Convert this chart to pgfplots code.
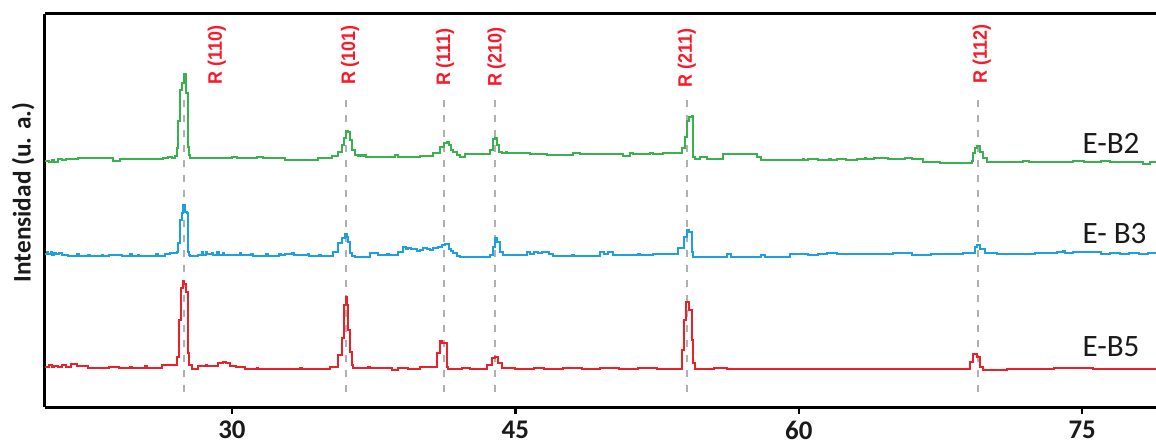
\documentclass[border=0pt]{standalone}
\usepackage{fontspec}
\setmainfont{Carlito}
\newfontfamily\peakfont[FakeStretch=0.92]{Liberation Sans}
\usepackage{pgfplots}
\pgfplotsset{compat=1.18}

\definecolor{cgreen}{RGB}{56,178,76}
\definecolor{cblue}{RGB}{28,160,226}
\definecolor{cred}{RGB}{236,32,40}
\definecolor{cdash}{RGB}{176,176,176}
\definecolor{cpeak}{RGB}{250,25,40}
\definecolor{ctext}{RGB}{26,26,26}

% E-B2 diffractogram (2theta, intensity with vertical offset)
\pgfplotstableread{
x y
20.10 246
20.30 245
20.45 247
20.60 245
20.81 248
21.00 247.5
21.20 248.5
21.86 248.7
22.50 248.7
23.10 248.7
23.72 246.3
24.07 248.3
24.86 248
25.50 248
26.00 248
26.36 249.3
26.60 250
26.80 249.3
26.98 251
27.07 258.7
27.16 286
27.25 317
27.37 323.7
27.44 333
27.55 313.7
27.65 300.3
27.69 260.3
27.74 252
27.78 249.3
28.30 249.3
29.98 250.3
30.25 249.3
31.31 250.3
31.66 249.3
32.81 247
33.60 247
34.57 249.3
35.28 251
35.63 255.3
35.81 262
35.93 268.7
36.02 276.3
36.16 275.3
36.25 267
36.33 257
36.51 252
36.69 251
36.80 252.5
36.90 251
37.00 252.5
37.10 250.5
37.39 250.3
38.00 250.3
38.63 252
38.81 250.3
39.50 250.3
39.95 251
40.66 253.7
41.01 260.3
41.20 264.3
41.36 265
41.50 262
41.57 257
41.71 255.3
41.89 252
42.07 250.3
42.33 252.7
43.00 252.7
43.57 252.7
43.66 257
43.83 267.7
43.92 269.3
44.04 262
44.15 255.3
44.27 253.7
44.50 254.8
44.58 253.7
44.80 254.5
44.90 253.7
45.77 253
46.66 252
47.50 252
48.07 254.3
48.42 252.7
49.48 252.7
50.00 253.5
50.30 252.7
50.71 251
51.07 254.3
51.24 252.7
52.13 254.3
52.30 252.7
52.80 254
53.01 253.7
53.71 253.7
53.80 258.7
53.98 270.3
54.10 286.3
54.21 290.3
54.33 291
54.38 250
54.51 247.7
54.77 249.7
55.13 247.7
56.01 252.7
57.42 252.7
57.77 250.3
58.00 247
59.00 247
59.54 247
60.20 248.5
60.30 247
60.50 247.8
61.00 247
61.60 248.5
61.70 247
62.00 248
62.50 247
63.07 248
63.50 249.5
63.58 248
64.00 248.8
64.70 248
65.60 249
66.00 248
66.42 248
66.60 245.3
67.50 244.3
68.63 244.3
69.16 246.3
69.21 253.7
69.33 258.7
69.46 261
69.60 255.3
69.77 248.7
69.95 244.7
71.00 244.7
71.89 246.3
72.20 244.7
73.00 245.5
73.66 244.7
74.50 246.3
75.10 244.7
75.42 244.7
76.00 246.3
76.50 244.7
77.19 245.5
77.80 244.7
78.20 243.5
78.60 245.5
79.00 245
}\ebtwo

% E-B3 diffractogram
\pgfplotstableread{
x y
20.10 152.7
20.20 154.8
20.28 152.7
20.40 155
20.47 152.5
20.60 154.3
20.68 152.7
20.85 153.8
21.00 152
21.34 151.3
21.80 152.7
21.88 151.3
22.40 152.5
22.50 151.3
23.10 152.5
23.18 151.3
23.50 152
24.20 151.3
24.60 152.7
24.70 151.3
25.00 152.5
25.10 151.3
25.60 151.3
26.00 152.7
26.10 151.5
26.45 152.7
26.70 153.7
27.07 155
27.16 163.7
27.25 187
27.37 193.7
27.42 202
27.51 195.3
27.60 193.7
27.65 155.3
27.72 152
27.78 151
28.22 152
28.40 154.8
28.48 152.5
28.62 155
28.70 153
28.92 154.3
29.00 152.5
29.20 154.8
29.30 152.5
29.50 154
29.60 152
30.40 153.8
30.48 152
31.00 153
31.10 151.5
31.80 152.7
31.90 151.5
32.50 153.5
32.60 152
32.81 153
33.20 154.5
33.30 152.5
34.00 152.7
34.10 151.3
34.60 152.5
34.70 151.3
35.28 151.3
35.36 155.3
35.63 163.7
35.81 168.7
35.98 172.7
36.07 170.3
36.16 165.3
36.25 153.7
36.33 151
36.51 150.3
37.31 153.7
37.75 152
38.20 153.5
38.30 152
38.63 152
38.81 155.3
39.07 159.7
39.20 157.7
39.33 159
39.45 157.7
39.60 158.5
39.80 156.5
39.95 157
40.10 159
40.30 158.5
40.50 157
40.66 158.7
40.90 160.5
41.10 162
41.30 162.7
41.50 158.5
41.60 156
41.71 154
41.89 151.5
42.07 150.3
43.57 150.3
43.66 152
43.80 160.3
43.92 169.3
44.04 165.3
44.18 155.3
44.35 152
45.00 152.5
45.60 155.3
45.80 153.5
46.00 155.5
46.20 153.7
46.40 155
46.60 155.3
46.80 153
47.00 151.3
48.00 152.5
48.10 151.3
49.48 155.3
49.70 153.5
49.90 155
50.18 152
51.00 152
51.50 153.3
51.60 152
52.30 153.3
53.40 153
53.63 158.7
53.90 170.3
54.07 177
54.20 175.3
54.33 155.3
54.42 150.3
56.00 150.3
56.20 153.5
56.40 150.3
58.00 152
58.20 150.3
59.54 152.7
60.00 153.5
60.50 152
61.00 152.7
61.50 154
62.00 152.7
63.00 153.5
64.00 152.7
65.00 153.7
66.00 152.3
67.00 152.7
68.00 153.5
68.71 154.3
69.16 154.3
69.33 160.3
69.46 162.3
69.60 158
69.86 153.7
70.50 153.3
71.50 152.7
72.50 153.7
73.66 154.7
74.00 156
74.10 154.5
74.50 155
75.42 154.7
76.00 153.5
76.50 154.3
77.00 153.3
77.50 154.3
78.00 153.5
78.50 154.3
79.00 154
}\ebthree

% E-B5 diffractogram
\pgfplotstableread{
x y
20.10 40.3
20.30 42.5
20.45 40.3
20.60 41.5
20.80 40.3
21.00 42
21.20 40.5
21.50 43
21.80 41
22.40 39.3
23.00 39.3
23.50 40.3
24.00 39.3
24.60 40.5
24.70 39.3
25.40 40.8
25.50 39.3
26.27 42
26.90 42.5
27.07 50.3
27.21 87
27.30 118.7
27.39 126.3
27.48 123.5
27.57 115.3
27.65 53.7
27.72 42
27.86 38.5
28.22 41
28.60 42.5
28.70 41
29.28 43.7
29.50 45
29.70 44
29.89 41.5
30.20 40
30.69 38
31.30 39.3
31.40 38
32.00 38.5
33.00 38
33.60 39.3
33.70 38
34.00 38.3
35.00 38
35.20 40
35.63 52
35.81 68.7
35.93 102
36.02 110.3
36.10 102
36.16 77
36.25 55.3
36.33 42
36.42 39.3
37.20 40
37.30 39
38.45 37
38.81 39.3
39.30 38
39.95 40.3
40.65 40.3
40.83 53.7
41.00 66.3
41.10 63.7
41.27 63.7
41.36 40.3
41.45 38
42.20 39
42.60 38
43.48 42
43.74 48.7
43.92 50.3
44.09 43.7
44.27 38.7
45.00 38
46.00 39
46.50 38
47.50 38.7
48.50 38
49.50 39
50.50 38
51.50 38.7
52.50 38
53.71 38.5
53.80 57
53.92 87
54.03 104.7
54.20 97
54.33 67
54.42 44
54.50 38
55.50 39.3
56.20 38
57.00 38.5
58.00 37.7
59.00 38.5
60.00 37.7
61.00 38.3
62.00 37.7
63.00 38.5
64.00 37.7
65.00 38.3
66.00 37.7
67.00 38.3
68.00 37.7
69.07 45.3
69.24 53
69.42 50.3
69.60 40.3
69.77 37
71.00 37.7
72.00 38.3
73.50 39
74.50 39.5
75.60 38.5
76.50 37.7
77.50 38.3
79.00 37.7
}\ebfive

\begin{document}
\begin{tikzpicture}
\begin{axis}[
  scale only axis,
  width=556.3bp, height=196.5bp,
  xmin=20.1, xmax=79, ymin=0, ymax=393,
  axis x line=box, axis y line=left,
  axis line style={-, line width=1.5bp, black},
  xtick={30,45,60,75}, xtick pos=left,
  ytick=\empty,
  tick align=outside, major tick length=3.5bp,
  tick style={line width=1.2bp, black},
  xticklabel style={font=\bfseries\fontsize{13.5}{14}\selectfont, text=ctext},
  /pgf/number format/assume math mode=true,
  clip=false,
]
% reflection positions (rutile)
\foreach \p in {27.45,36.02,41.2,43.92,54.1,69.47}{
  \edef\temp{\noexpand\addplot[cdash, line width=1bp, dash pattern=on 3.5bp off 4bp, forget plot]
    coordinates {(\p,15) (\p,312)};}
  \temp
}
\addplot[cgreen, line width=1bp, const plot] table {\ebtwo};
\addplot[cblue, line width=1bp, const plot] table {\ebthree};
\addplot[cred, line width=1bp, const plot] table {\ebfive};

\begin{scope}[every node/.style={rotate=90, text=cpeak, font=\peakfont\bfseries\fontsize{9.8}{10}\selectfont}]
\node at (axis cs:29.2,352) {R (110)};
\node at (axis cs:36.25,352) {R (101)};
\node at (axis cs:41.28,350) {R (111)};
\node at (axis cs:44.01,350) {R (210)};
\node at (axis cs:54.07,349) {R (211)};
\node at (axis cs:69.69,353) {R (112)};
\end{scope}

\begin{scope}[every node/.style={anchor=west, inner sep=0pt, text=ctext, font=\fontsize{15.6}{16}\selectfont}]
\node at (axis cs:75.0,264) {E-B2};
\node at (axis cs:75.0,174) {E- B3};
\node at (axis cs:75.0,60) {E-B5};
\end{scope}

\node[rotate=90, text=ctext, font=\bfseries\fontsize{12.7}{13}\selectfont]
  at (axis cs:18.94,214.5) {Intensidad (u. a.)};

\coordinate (bbA) at (axis cs:17.72,-40);
\coordinate (bbB) at (axis cs:78.91,407);
\end{axis}
\pgfresetboundingbox
\path[use as bounding box] (bbA) rectangle (bbB);
\end{tikzpicture}
\end{document}
